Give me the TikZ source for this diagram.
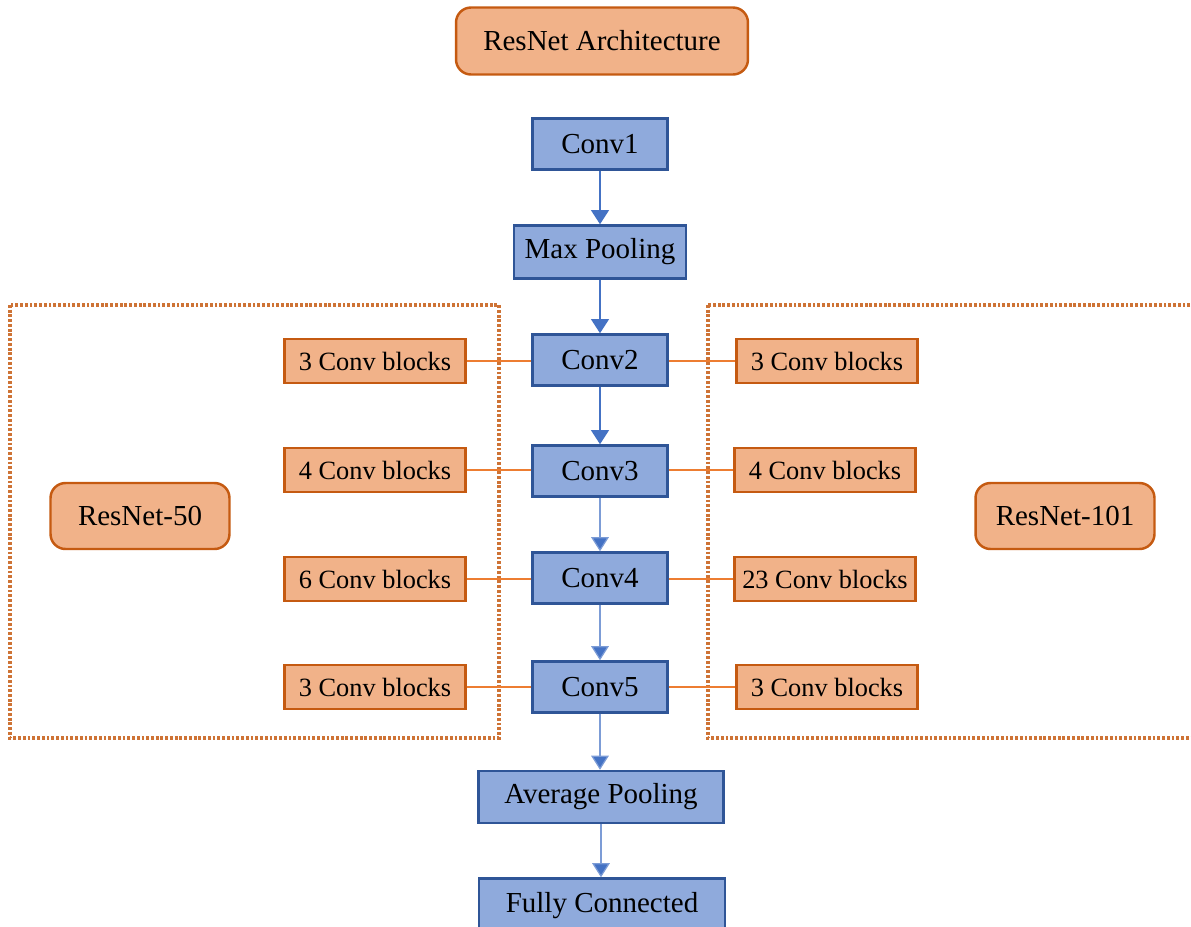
\documentclass[tikz,border=0pt]{standalone}
\usepackage{fontspec}
\setmainfont{Liberation Serif}
\usetikzlibrary{arrows.meta}
\definecolor{bluefill}{RGB}{143,170,220}
\definecolor{blueline}{RGB}{47,85,151}
\definecolor{bluearrow}{RGB}{68,114,196}
\definecolor{orangefill}{RGB}{241,178,137}
\definecolor{orangeline}{RGB}{197,90,17}
\definecolor{orangelink}{RGB}{237,125,49}

\begin{document}
\begin{tikzpicture}[x=0.02cm,y=-0.02cm,
  layer/.style={draw=blueline,fill=bluefill,line width=1.4pt,inner sep=0pt,
    minimum width=2.7cm,minimum height=1.02cm,font=\fontsize{16.5}{19}\selectfont},
  blocks/.style={draw=orangeline,fill=orangefill,line width=1.4pt,inner sep=0pt,
    minimum width=3.62cm,minimum height=0.88cm,font=\fontsize{15}{18}\selectfont},
  tag/.style={draw=orangeline,fill=orangefill,line width=1.4pt,inner sep=0pt,
    rounded corners=0.3cm,minimum width=3.58cm,minimum height=1.32cm,
    font=\fontsize{16.5}{19}\selectfont},
  flow/.style={draw=bluearrow,line width=1.2pt,-{Triangle[length=8pt,width=10pt]}},
  thinflow/.style={draw=bluearrow!70,line width=0.7pt,-{Triangle[length=8pt,width=10pt,fill=bluearrow]}},
  link/.style={draw=orangelink,line width=1.1pt},
  dotbox/.style={draw=orangeline!85,line width=1.8pt,dash pattern=on 1.6pt off 1.1pt}]
\useasboundingbox (0,0) rectangle (1191,927);
\clip (0,0) rectangle (1191,927);

% group frames
\draw[dotbox] (10,305) rectangle (499,738);
\draw[dotbox] (708,305) rectangle (1230,738);

% title and group labels
\node[tag,minimum width=5.84cm,minimum height=1.34cm] (title) at (602,41) {ResNet Architecture};
\node[tag] (r50) at (140,516) {ResNet-50};
\node[tag] (r101) at (1065,516) {ResNet-101};

% main chain
\node[layer] (conv1) at (600,144) {Conv1};
\node[layer,minimum width=3.44cm,minimum height=1.06cm] (pool) at (600,252) {Max Pooling};
\node[layer] (conv2) at (600,360) {Conv2};
\node[layer] (conv3) at (600,471) {Conv3};
\node[layer] (conv4) at (600,578) {Conv4};
\node[layer] (conv5) at (600,687) {Conv5};
\node[layer,minimum width=4.9cm,minimum height=1.04cm] (avg) at (601,797) {Average Pooling};
\node[layer,minimum width=4.92cm,minimum height=1.1cm] (fc) at (602,906) {Fully Connected};

% ResNet-50 blocks
\node[blocks] (a2) at (375,361) {3 Conv blocks};
\node[blocks] (a3) at (375,470) {4 Conv blocks};
\node[blocks] (a4) at (375,579) {6 Conv blocks};
\node[blocks] (a5) at (375,687) {3 Conv blocks};

% ResNet-101 blocks
\node[blocks] (b2) at (827,361) {3 Conv blocks};
\node[blocks] (b3) at (825,470) {4 Conv blocks};
\node[blocks] (b4) at (825,579) {23 Conv blocks};
\node[blocks] (b5) at (827,687) {3 Conv blocks};

\draw[flow] (conv1) -- (pool);
\draw[flow] (pool) -- (conv2);
\draw[flow] (conv2) -- (conv3);
\draw[thinflow] (conv3) -- (conv4);
\draw[thinflow] (conv4) -- (conv5);
\draw[thinflow] (conv5) -- (conv5 |- avg.north);
\draw[thinflow] (avg) -- (avg |- fc.north);

\draw[link] (a2) -- (a2 -| conv2.west);
\draw[link] (a3) -- (a3 -| conv3.west);
\draw[link] (a4) -- (a4 -| conv4.west);
\draw[link] (a5) -- (a5 -| conv5.west);
\draw[link] (b2 -| conv2.east) -- (b2);
\draw[link] (b3 -| conv3.east) -- (b3);
\draw[link] (b4 -| conv4.east) -- (b4);
\draw[link] (b5 -| conv5.east) -- (b5);
\end{tikzpicture}
\end{document}
